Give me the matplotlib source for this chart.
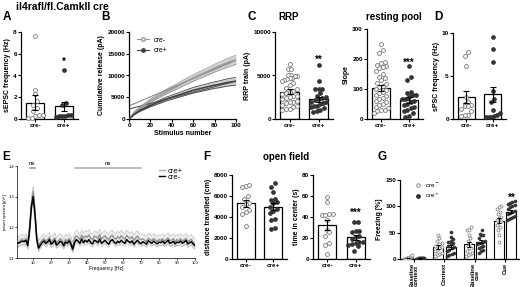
import numpy as np
import matplotlib
matplotlib.use('Agg')
import matplotlib.pyplot as plt
from matplotlib.lines import Line2D

plt.rcParams['font.family'] = ['Liberation Sans', 'DejaVu Sans']

# ---------------- data ----------------
groups = ['cre-', 'cre+']

# A: sEPSC frequency (Hz)
a_minus = [7.6, 2.7, 2.3, 1.7, 1.3, 1.0, 0.7, 0.4, 0.3, 0.1, 0.05, 0.4]
a_plus = [4.5, 1.5, 1.3, 0.4, 0.35, 0.3, 0.3, 0.2, 0.3]
a_mean = [1.5, 1.15]
a_sem = [0.7, 0.45]

# B: cumulative release
stim = [0, 5, 10, 15, 20, 25, 30, 35, 40, 45, 50, 55, 60, 65, 70, 75, 80, 85, 90, 95, 100]
b_minus = [0, 1500, 2500, 3400, 4200, 4900, 5600, 6300, 6900, 7500, 8200, 8800, 9400,
           10000, 10500, 11100, 11700, 12200, 12700, 13200, 13600]
b_minus_sem = [0, 150, 250, 320, 380, 430, 480, 530, 570, 610, 660, 700, 740, 780, 820,
               860, 900, 940, 980, 1020, 1050]
b_plus = [0, 1100, 1900, 2500, 3100, 3600, 4100, 4600, 5000, 5400, 5800, 6200, 6600,
          6900, 7200, 7500, 7800, 8000, 8300, 8500, 8700]
b_plus_sem = [0, 100, 180, 240, 300, 350, 400, 440, 480, 520, 560, 600, 640, 670, 700,
              730, 760, 790, 820, 850, 880]
fit_intercept = [3000, 2300]
fit_slope = [105, 64]

# C: RRP and resting pool
rrp_minus = [6300, 5700, 5700, 5000, 5000, 4900, 4900, 4700, 4700, 4600, 4500, 4400, 4100,
             3900, 3600, 3400, 3200, 3100, 3000, 2900, 2700, 2600, 2500, 2400, 2300, 2100,
             2000, 1900, 1800, 1600, 1500, 1400, 1200, 1100, 1000]
rrp_plus = [6200, 4400, 3500, 3400, 3400, 3000, 2600, 2500, 2400, 2300, 2200, 2000, 1900,
            1800, 1700, 1500, 1400, 1300, 900, 800, 1000, 1500]
rrp_mean = [3150, 2250]
rrp_sem = [250, 300]
rest_minus = [250, 230, 220, 190, 185, 180, 175, 172, 170, 160, 150, 140, 135, 130, 120,
              115, 110, 105, 100, 95, 90, 85, 80, 75, 70, 65, 55, 50, 40, 35, 30, 25, 20,
              30, 45, 60]
rest_plus = [175, 140, 130, 90, 85, 80, 80, 75, 70, 65, 65, 60, 55, 50, 45, 40, 35, 30,
             25, 20, 10, 5]
rest_mean = [102, 63]
rest_sem = [10, 9]

# D: sPSC frequency (Hz)
d_minus = [7.8, 7.3, 6.2, 2.6, 2.0, 1.8, 1.6, 1.5, 1.2, 0.9, 0.5, 0.5, 0.4, 1.5]
d_plus = [9.5, 8.1, 6.6, 3.2, 2.3, 2.0, 1.0, 0.7, 0.5, 0.4, 0.2, 0.2, 0.2]
d_mean = [2.6, 2.85]
d_sem = [0.7, 0.85]

# E: power spectra
freq = list(range(1, 101))
e_minus = [1.150, 1.148, 1.152, 1.155, 1.153, 1.158, 1.140, 1.190, 1.265, 1.300,
           1.240, 1.160, 1.132, 1.142, 1.150, 1.156, 1.147, 1.152, 1.160, 1.145,
           1.150, 1.158, 1.142, 1.147, 1.155, 1.150, 1.140, 1.152, 1.148, 1.156,
           1.145, 1.128, 1.150, 1.160, 1.155, 1.148, 1.162, 1.150, 1.158, 1.152,
           1.160, 1.150, 1.146, 1.158, 1.155, 1.150, 1.162, 1.148, 1.153, 1.158,
           1.150, 1.145, 1.156, 1.160, 1.152, 1.147, 1.155, 1.150, 1.158, 1.152,
           1.148, 1.160, 1.154, 1.150, 1.156, 1.145, 1.152, 1.158, 1.150, 1.147,
           1.153, 1.150, 1.145, 1.156, 1.152, 1.148, 1.155, 1.150, 1.146, 1.152,
           1.150, 1.155, 1.147, 1.152, 1.158, 1.148, 1.150, 1.154, 1.146, 1.152,
           1.150, 1.155, 1.148, 1.152, 1.157, 1.146, 1.150, 1.153, 1.145, 1.140]
e_plus = [1.155, 1.152, 1.158, 1.160, 1.156, 1.162, 1.145, 1.200, 1.280, 1.318,
          1.255, 1.165, 1.138, 1.150, 1.158, 1.162, 1.152, 1.160, 1.166, 1.150,
          1.158, 1.165, 1.150, 1.155, 1.162, 1.158, 1.146, 1.160, 1.155, 1.163,
          1.152, 1.135, 1.165, 1.172, 1.168, 1.160, 1.175, 1.165, 1.172, 1.168,
          1.176, 1.165, 1.160, 1.172, 1.170, 1.164, 1.177, 1.162, 1.168, 1.173,
          1.165, 1.160, 1.170, 1.175, 1.166, 1.162, 1.170, 1.165, 1.173, 1.167,
          1.162, 1.174, 1.168, 1.164, 1.170, 1.158, 1.166, 1.172, 1.163, 1.160,
          1.162, 1.158, 1.154, 1.164, 1.160, 1.156, 1.163, 1.158, 1.154, 1.160,
          1.157, 1.162, 1.154, 1.160, 1.165, 1.155, 1.158, 1.162, 1.153, 1.160,
          1.156, 1.162, 1.154, 1.158, 1.163, 1.152, 1.157, 1.160, 1.150, 1.146]
e_sem = [0.010, 0.017]

# F: open field
dist_minus = [7000, 6900, 7050, 6000, 5700, 5300, 5200, 5000, 4700, 4500, 4300, 3100]
dist_plus = [7200, 6900, 6400, 5700, 5400, 5300, 5000, 4800, 4600, 4400, 3800, 3700,
             3000, 2900, 5600]
dist_mean = [5300, 5000]
dist_sem = [350, 350]
center_minus = [59, 54, 43, 43, 42, 42, 37, 28, 26, 22, 15, 13, 5]
center_plus = [35, 35, 27, 27, 26, 21, 19, 16, 16, 15, 14, 13, 12, 8, 22]
center_mean = [32.5, 20.5]
center_sem = [5, 2.5]

# G: freezing
g_labels = ['Baseline\ncontext', 'Context', 'Baseline\ncue', 'Cue']
g_minus = [[0, 0, 0, 1, 1, 1, 2, 2, 3, 5, 7, 0, 1],
           [45, 40, 35, 30, 28, 25, 22, 20, 18, 15, 12, 10, 8, 5, 25],
           [60, 55, 55, 45, 40, 35, 30, 25, 20, 15, 12, 10, 8, 5, 20],
           [100, 98, 95, 90, 85, 80, 78, 75, 72, 70, 65, 60, 55, 45, 32]]
g_plus = [[0, 0, 0, 1, 1, 1, 2, 2, 1, 0, 1, 1, 2, 1],
          [52, 42, 38, 35, 33, 30, 28, 25, 22, 18, 15, 12, 10, 8, 5, 20],
          [55, 48, 45, 45, 40, 35, 32, 30, 28, 25, 22, 20, 18, 15, 12, 30],
          [110, 108, 106, 105, 102, 100, 98, 95, 92, 90, 88, 85, 82, 80, 78, 76, 75]]
g_mean_minus = [2, 23, 28, 73]
g_mean_plus = [1, 23, 33, 90]
g_sem_minus = [0.6, 3.5, 4.5, 4.5]
g_sem_plus = [0.3, 3.5, 3.5, 3]

# ---------------- helpers ----------------
W, H = 520, 287
fig = plt.figure(figsize=(W / 100, H / 100), dpi=100)


def box(l, t, r, b):
    return [l / W, 1 - b / H, (r - l) / W, (b - t) / H]


def ftext(x, y, s, **kw):
    fig.text(x / W, 1 - y / H, s, **kw)


def swarm(vals, center, binh, step, maxw):
    # spread points that share a value band sideways, Prism style
    vals = np.asarray(vals, dtype=float)
    order = np.argsort(vals)
    xs = np.zeros(len(vals))
    rows, cur = [], [order[0]]
    for i in order[1:]:
        if vals[i] - vals[cur[0]] > binh:
            rows.append(cur)
            cur = [i]
        else:
            cur.append(i)
    rows.append(cur)
    for row in rows:
        n = len(row)
        st = min(step, maxw / max(n - 1, 1))
        for k, i in enumerate(row):
            xs[i] = center + (k - (n - 1) / 2) * st
    return xs


def prism(ax, yticks):
    for s in ['top', 'right']:
        ax.spines[s].set_visible(False)
    ax.spines['left'].set_linewidth(0.9)
    ax.spines['bottom'].set_linewidth(0.9)
    ax.tick_params(width=0.8, length=2, labelsize=4.6, pad=1)
    ax.set_yticks(yticks)
    for lb in ax.get_xticklabels() + ax.get_yticklabels():
        lb.set_fontweight('bold')


def bar_panel(ax, minus, plus, means, sems, ymax, yticks, ylabel, ms=2.8, star=None):
    ax.bar([0, 1], means, width=0.64, color='white', edgecolor='black', lw=0.9, zorder=1)
    binh = ymax * 0.05
    ax.plot(swarm(minus, 0, binh, 0.13, 0.52), minus, 'o', mfc='white', mec='#777777',
            ms=ms, mew=0.6, zorder=3, clip_on=False)
    ax.plot(swarm(plus, 1, binh, 0.13, 0.52), plus, 'o', mfc='#333333', mec='#333333',
            ms=ms, mew=0.5, zorder=3, clip_on=False)
    ax.errorbar([0, 1], means, yerr=sems, fmt='none', ecolor='black', elinewidth=0.8,
                capsize=2, capthick=0.8, zorder=4)
    ax.set_xlim(-0.5, 1.5)
    ax.set_ylim(0, ymax)
    ax.set_xticks([0, 1])
    ax.set_xticklabels(groups)
    ax.set_ylabel(ylabel, fontsize=5, fontweight='bold', labelpad=1.5)
    prism(ax, yticks)
    if star is not None:
        ax.text(1, star[1], star[0], ha='center', va='center', fontsize=7,
                fontweight='bold')


# ---------------- A ----------------
axA = fig.add_axes(box(21, 32, 78, 119))
bar_panel(axA, a_minus, a_plus, a_mean, a_sem, 8, [0, 2, 4, 6, 8],
          'sEPSC frequency (Hz)', star=('*', 5.3))

# ---------------- B ----------------
axB = fig.add_axes(box(129, 32, 236, 119))
s = np.array(stim)
for mean, sem, col in [(b_minus, b_minus_sem, '#9a9a9a'), (b_plus, b_plus_sem, '#444444')]:
    mean, sem = np.array(mean), np.array(sem)
    axB.fill_between(s, mean - sem, mean + sem, color='#d0d0d0', lw=0, zorder=1)
    axB.plot(s, mean + sem, color=col, lw=0.6, zorder=2)
    axB.plot(s, mean - sem, color=col, lw=0.6, zorder=2)
    axB.plot(s, mean, color=col, lw=1.2, zorder=3)
for b0, k, col in zip(fit_intercept, fit_slope, ['#888888', '#555555']):
    axB.plot([0, 100], [b0, b0 + k * 100], color=col, lw=0.8, zorder=2)
axB.set_xlim(0, 100)
axB.set_ylim(0, 20000)
axB.set_xticks([0, 20, 40, 60, 80, 100])
axB.set_xlabel('Stimulus number', fontsize=5, fontweight='bold', labelpad=1)
axB.set_ylabel('Cumulative release (pA)', fontsize=5, fontweight='bold', labelpad=1.5)
prism(axB, [0, 5000, 10000, 15000, 20000])
hB = [Line2D([], [], color='#9a9a9a', marker='o', mfc='white', mec='#9a9a9a', ms=2.5, lw=0.8),
      Line2D([], [], color='#444444', marker='o', mfc='#444444', mec='#444444', ms=2.5, lw=0.8)]
axB.legend(hB, groups, loc='upper left', bbox_to_anchor=(0.02, 1.02), frameon=False,
           fontsize=5, handlelength=1.6, labelspacing=0.5)

# ---------------- C ----------------
axC1 = fig.add_axes(box(275, 32, 333, 119))
bar_panel(axC1, rrp_minus, rrp_plus, rrp_mean, rrp_sem, 10000, [0, 5000, 10000],
          'RRP train (pA)', star=('**', 6750))
axC2 = fig.add_axes(box(367, 29, 423, 119))
bar_panel(axC2, rest_minus, rest_plus, rest_mean, rest_sem, 300, [0, 100, 200, 300],
          'Slope', star=('***', 186))
ftext(289, 17, 'RRP', ha='center', va='center', fontsize=7, fontweight='bold')
ftext(394, 17, 'resting pool', ha='center', va='center', fontsize=7, fontweight='bold')

# ---------------- D ----------------
axD = fig.add_axes(box(453, 33, 506, 119))
bar_panel(axD, d_minus, d_plus, d_mean, d_sem, 10, [0, 5, 10], 'sPSC frequency (Hz)')

# ---------------- E ----------------
axE = fig.add_axes(box(17, 166, 195, 258))
f = np.array(freq)
for mean, sem in [(e_plus, e_sem[1]), (e_minus, e_sem[0])]:
    mean = np.array(mean)
    axE.fill_between(f, mean - sem, mean + sem, color='#ececec', lw=0, zorder=1)
    axE.plot(f, mean + sem, color='#b4b4b4', lw=0.4, zorder=2)
    axE.plot(f, mean - sem, color='#b4b4b4', lw=0.4, zorder=2)
axE.plot(f, e_plus, color='#888888', lw=0.8, zorder=3)
axE.plot(f, e_minus, color='black', lw=1.1, zorder=4)
axE.set_xlim(1, 100)
axE.set_ylim(1.1, 1.4)
axE.set_xticks(range(10, 101, 10))
axE.set_yticks([1.1, 1.2, 1.3, 1.4])
for sp in ['top', 'right']:
    axE.spines[sp].set_visible(False)
axE.spines['left'].set_linewidth(0.5)
axE.spines['bottom'].set_linewidth(0.5)
axE.tick_params(width=0.5, length=1.2, labelsize=3.0, pad=0.8)
axE.set_xlabel('Frequency [Hz]', fontsize=3.6, labelpad=1)
ftext(5, 212, 'power spectra [µV²]', rotation=90, ha='center', va='center', fontsize=3.0)
axE.plot([8, 11], [1.395, 1.395], color='#999999', lw=1.2, clip_on=False)
axE.plot([33, 70], [1.395, 1.395], color='#b0b0b0', lw=1.2, clip_on=False)
axE.text(9.5, 1.40, 'ns', ha='center', va='bottom', fontsize=4.5)
axE.text(51.5, 1.40, 'ns', ha='center', va='bottom', fontsize=4.5)
hE = [Line2D([], [], color='#aaaaaa', lw=1), Line2D([], [], color='black', lw=1)]
axE.legend(hE, ['cre+', 'cre-'], loc='upper right', bbox_to_anchor=(0.97, 1.06),
           frameon=False, fontsize=5.5, handlelength=0.8, handletextpad=0.3,
           labelspacing=-0.2)

# ---------------- F ----------------
axF1 = fig.add_axes(box(232, 175, 287, 259))
bar_panel(axF1, dist_minus, dist_plus, dist_mean, dist_sem, 8000,
          [0, 2000, 4000, 6000, 8000], 'distance travelled (cm)')
axF2 = fig.add_axes(box(313, 175, 370, 259))
bar_panel(axF2, center_minus, center_plus, center_mean, center_sem, 80,
          [0, 20, 40, 60, 80], 'time in center (s)', star=('***', 43.5))
ftext(286, 157, 'open field', ha='center', va='center', fontsize=7, fontweight='bold')

# ---------------- G ----------------
axG = fig.add_axes(box(400, 180, 519, 259))
xg = np.arange(len(g_labels))
off, bw = 0.2, 0.33
axG.bar(xg - off, g_mean_minus, width=bw, color='white', edgecolor='black', lw=0.8, zorder=1)
axG.bar(xg + off, g_mean_plus, width=bw, color='white', edgecolor='black', lw=0.8, zorder=1)
for i in range(len(g_labels)):
    axG.plot(swarm(g_minus[i], i - off, 7, 0.07, 0.26), g_minus[i], 'o', mfc='white',
             mec='#777777', ms=2.2, mew=0.5, zorder=3)
    axG.plot(swarm(g_plus[i], i + off, 7, 0.07, 0.26), g_plus[i], 'o', mfc='#333333',
             mec='#333333', ms=2.2, mew=0.4, zorder=3)
axG.errorbar(xg - off, g_mean_minus, yerr=g_sem_minus, fmt='none', ecolor='black',
             elinewidth=0.7, capsize=1.5, capthick=0.7, zorder=4)
axG.errorbar(xg + off, g_mean_plus, yerr=g_sem_plus, fmt='none', ecolor='black',
             elinewidth=0.7, capsize=1.5, capthick=0.7, zorder=4)
axG.text(3 + off, 117, '**', ha='center', va='center', fontsize=7, fontweight='bold')
axG.set_xlim(-0.46, 3.45)
axG.set_ylim(0, 150)
axG.set_xticks(xg)
axG.set_xticklabels(g_labels, rotation=90, linespacing=0.85)
prism(axG, [0, 50, 100, 150])
axG.tick_params(axis='x', labelsize=4.2)
axG.set_ylabel('Freezing [%]', fontsize=5, fontweight='bold', labelpad=1.5)
hG = [Line2D([], [], ls='none', marker='o', mfc='white', mec='#777777', ms=2.5, mew=0.6),
      Line2D([], [], ls='none', marker='o', mfc='#333333', mec='#333333', ms=2.5)]
axG.legend(hG, ['cre$^-$', 'cre$^+$'], loc='upper left', bbox_to_anchor=(0.08, 1.06),
           frameon=False, fontsize=4.6, handlelength=1.0, handletextpad=0.6,
           labelspacing=0.3)

# ---------------- labels ----------------
ftext(62, 7, 'il4rafl/fl.CamkII cre', ha='center', va='center', fontsize=7.5,
      fontweight='bold')
for letter, x, y in [('A', 3, 17), ('B', 101, 17), ('C', 247, 17), ('D', 434, 17),
                     ('E', 2, 157), ('F', 203, 157), ('G', 377, 157)]:
    ftext(x, y, letter, ha='left', va='center', fontsize=8.5, fontweight='bold')

fig.savefig('out.png', dpi=100)
